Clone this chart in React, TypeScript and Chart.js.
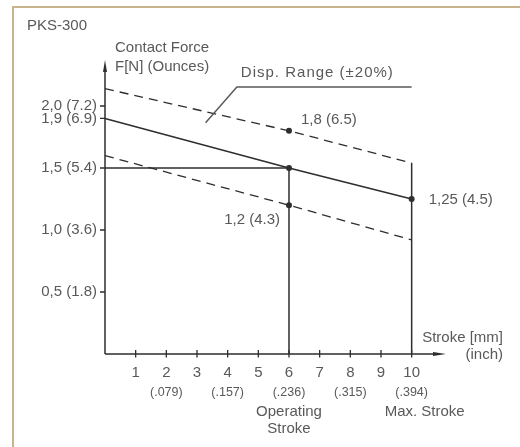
import { useEffect, useRef } from "react";
import { Chart, registerables } from "chart.js";

Chart.register(...registerables);

// ---- data ----
const strokeMm = [0, 6, 10];
const nominalForce = [1.9, 1.5, 1.25];
const upperForce = [2.14, 1.8, 1.54];
const lowerForce = [1.6, 1.2, 0.92];
const nominalDots = [0, 1, 1];
const upperDots = [0, 1, 0];
const lowerDots = [0, 1, 0];

const operatingStroke = 6;
const maxStroke = 10;
const operatingForce = 1.5;

const xTickValues = [1, 2, 3, 4, 5, 6, 7, 8, 9, 10];
const inchTickValues = [2, 4, 6, 8, 10];
const inchTickLabels = ["(.079)", "(.157)", "(.236)", "(.315)", "(.394)"];
const yTickValues = [0.5, 1.0, 1.5, 1.9, 2.0];
const yTickLabels = ["0,5 (1.8)", "1,0 (3.6)", "1,5 (5.4)", "1,9 (6.9)", "2,0 (7.2)"];

const pointLabelX = [6, 6, 10];
const pointLabelY = [1.8, 1.2, 1.25];
const pointLabelText = ["1,8 (6.5)", "1,2 (4.3)", "1,25 (4.5)"];

const titleText = "PKS-300";
const yTitleLines = ["Contact Force", "F[N] (Ounces)"];
const xTitleLines = ["Stroke [mm]", "(inch)"];
const rangeText = "Disp. Range (\u00b120%)";
const operatingText = ["Operating", "Stroke"];
const maxStrokeText = "Max. Stroke";

// ---- styles ----
const FAMILY = '"Liberation Sans", Arial, Helvetica, sans-serif';
const INK = "#2e2e2e";
const TEXT = "#595959";
const BORDER = "#c8b38c";
const f = (s: number) => `${s}px ${FAMILY}`;
const pointLabelStyle = [
  { dx: 12, dy: -7, align: "left" },
  { dx: -9, dy: 19, align: "right" },
  { dx: 17, dy: 5, align: "left" },
];

const toXY = (ys: number[]) => strokeMm.map((x, i) => ({ x, y: ys[i] }));

const decorPlugin = {
  id: "decor",
  afterDraw(chart: any) {
    const { ctx, chartArea, scales } = chart;
    const xs = scales.x;
    const ys = scales.y;
    const px = (v: number) => xs.getPixelForValue(v);
    const py = (v: number) => ys.getPixelForValue(v);
    const x0 = px(0);
    const y0 = py(0);
    ctx.save();
    ctx.strokeStyle = INK;
    ctx.fillStyle = INK;
    ctx.lineWidth = 1.5;
    // axes
    ctx.beginPath();
    ctx.moveTo(x0, y0);
    ctx.lineTo(x0, chartArea.top + 8);
    ctx.moveTo(x0, y0);
    ctx.lineTo(chartArea.right - 8, y0);
    ctx.stroke();
    // arrows
    ctx.beginPath();
    ctx.moveTo(x0, chartArea.top);
    ctx.lineTo(x0 - 2, chartArea.top + 12);
    ctx.lineTo(x0 + 2, chartArea.top + 12);
    ctx.closePath();
    ctx.fill();
    ctx.beginPath();
    ctx.moveTo(chartArea.right, y0);
    ctx.lineTo(chartArea.right - 13, y0 - 2);
    ctx.lineTo(chartArea.right - 13, y0 + 2);
    ctx.closePath();
    ctx.fill();
    // tick marks
    ctx.lineWidth = 1.3;
    ctx.beginPath();
    xTickValues.forEach((v) => {
      const x = px(v);
      ctx.moveTo(x, y0 - 4);
      ctx.lineTo(x, y0 + 3.5);
    });
    yTickValues.forEach((v) => {
      const y = py(v);
      ctx.moveTo(x0 - 5, y);
      ctx.lineTo(x0, y);
    });
    ctx.stroke();

    // texts
    ctx.fillStyle = TEXT;
    ctx.textBaseline = "alphabetic";
    ctx.textAlign = "center";
    ctx.font = f(12.5);
    inchTickValues.forEach((v, i) => {
      ctx.fillText(inchTickLabels[i], px(v), y0 + 42);
    });
    ctx.font = f(15);
    ctx.fillText(operatingText[0], px(operatingStroke), y0 + 62);
    ctx.fillText(operatingText[1], px(operatingStroke), y0 + 79);
    ctx.fillText(maxStrokeText, px(maxStroke) + 13, y0 + 62);

    ctx.textAlign = "right";
    ctx.fillText(xTitleLines[0], chartArea.right + 57, y0 - 12);
    ctx.fillText(xTitleLines[1], chartArea.right + 57, y0 + 5);

    ctx.textAlign = "left";
    ctx.fillText(titleText, 27, 30);
    ctx.fillText(yTitleLines[0], x0 + 10, 52);
    ctx.fillText(yTitleLines[1], x0 + 10, 71);

    // point labels
    pointLabelText.forEach((t, i) => {
      const st = pointLabelStyle[i];
      ctx.textAlign = st.align;
      ctx.fillText(t, px(pointLabelX[i]) + st.dx, py(pointLabelY[i]) + st.dy);
    });

    // display range annotation
    const kneeX = px(4.3);
    const kneeY = py(2.153);
    ctx.textAlign = "left";
    (ctx as any).letterSpacing = "1px";
    ctx.fillText(rangeText, kneeX + 4, kneeY - 10);
    (ctx as any).letterSpacing = "0px";
    ctx.strokeStyle = "#5a5a5a";
    ctx.lineWidth = 1.5;
    ctx.beginPath();
    ctx.moveTo(px(maxStroke), kneeY);
    ctx.lineTo(kneeX, kneeY);
    ctx.lineTo(px(3.28), py(1.865));
    ctx.stroke();
    ctx.restore();
  },
};

export default function App() {
  const ref = useRef<HTMLCanvasElement | null>(null);
  useEffect(() => {
    if (!ref.current) return;
    const lineBase = {
      borderColor: INK,
      pointBackgroundColor: INK,
      pointBorderWidth: 0,
      pointHoverRadius: 0,
      tension: 0,
      fill: false,
      clip: false as any,
    };
    const chart = new Chart(ref.current, {
      type: "line",
      data: {
        datasets: [
          {
            ...lineBase,
            label: "Nominal",
            data: toXY(nominalForce),
            borderWidth: 1.5,
            pointRadius: nominalDots.map((d) => d * 3),
          },
          {
            ...lineBase,
            label: "Upper",
            data: toXY(upperForce),
            borderWidth: 1.3,
            borderDash: [9, 6],
            pointRadius: upperDots.map((d) => d * 3),
          },
          {
            ...lineBase,
            label: "Lower",
            data: toXY(lowerForce),
            borderWidth: 1.3,
            borderDash: [9, 6],
            pointRadius: lowerDots.map((d) => d * 3),
          },
          {
            ...lineBase,
            label: "Operating",
            data: [
              { x: 0, y: operatingForce },
              { x: operatingStroke, y: operatingForce },
              { x: operatingStroke, y: 0 },
            ],
            borderWidth: 1.5,
            pointRadius: 0,
          },
          {
            ...lineBase,
            label: "Max",
            data: [
              { x: maxStroke, y: upperForce[2] },
              { x: maxStroke, y: 0 },
            ],
            borderWidth: 1.5,
            pointRadius: 0,
          },
        ],
      },
      options: {
        responsive: false,
        animation: false,
        events: [],
        layout: { padding: { left: 10, top: 60, right: 74, bottom: 0 } },
        plugins: { legend: { display: false }, tooltip: { enabled: false } },
        scales: {
          x: {
            type: "linear",
            min: 0,
            max: 11.12,
            grid: { display: false, drawTicks: false },
            border: { display: false },
            ticks: {
              autoSkip: false,
              padding: 10,
              color: TEXT,
              font: { family: FAMILY, size: 15 },
              callback: (v: any) => String(v),
            },
            afterBuildTicks: (s: any) => {
              s.ticks = xTickValues.map((v) => ({ value: v }));
            },
            afterFit: (s: any) => {
              s.height = 93;
            },
          },
          y: {
            type: "linear",
            min: 0,
            max: 2.371,
            grid: { display: false, drawTicks: false },
            border: { display: false },
            ticks: {
              autoSkip: false,
              padding: 8,
              color: TEXT,
              font: { family: FAMILY, size: 15 },
              callback: (v: any) => yTickLabels[yTickValues.indexOf(v)],
            },
            afterBuildTicks: (s: any) => {
              s.ticks = yTickValues.map((v) => ({ value: v }));
            },
            afterFit: (s: any) => {
              s.width = 95;
            },
          },
        },
      } as any,
      plugins: [decorPlugin as any],
    });
    return () => chart.destroy();
  }, []);

  return (
    <div style={{ position: "absolute", left: 0, top: 0, width: 520, height: 447, background: "#fff", overflow: "hidden" }}>
      <div
        style={{
          position: "absolute",
          left: 12,
          top: 6,
          width: 600,
          height: 600,
          borderLeft: `2px solid ${BORDER}`,
          borderTop: `2px solid ${BORDER}`,
        }}
      />
      <canvas ref={ref} width={520} height={447} style={{ position: "absolute", left: 0, top: 0, display: "block" }} />
    </div>
  );
}
